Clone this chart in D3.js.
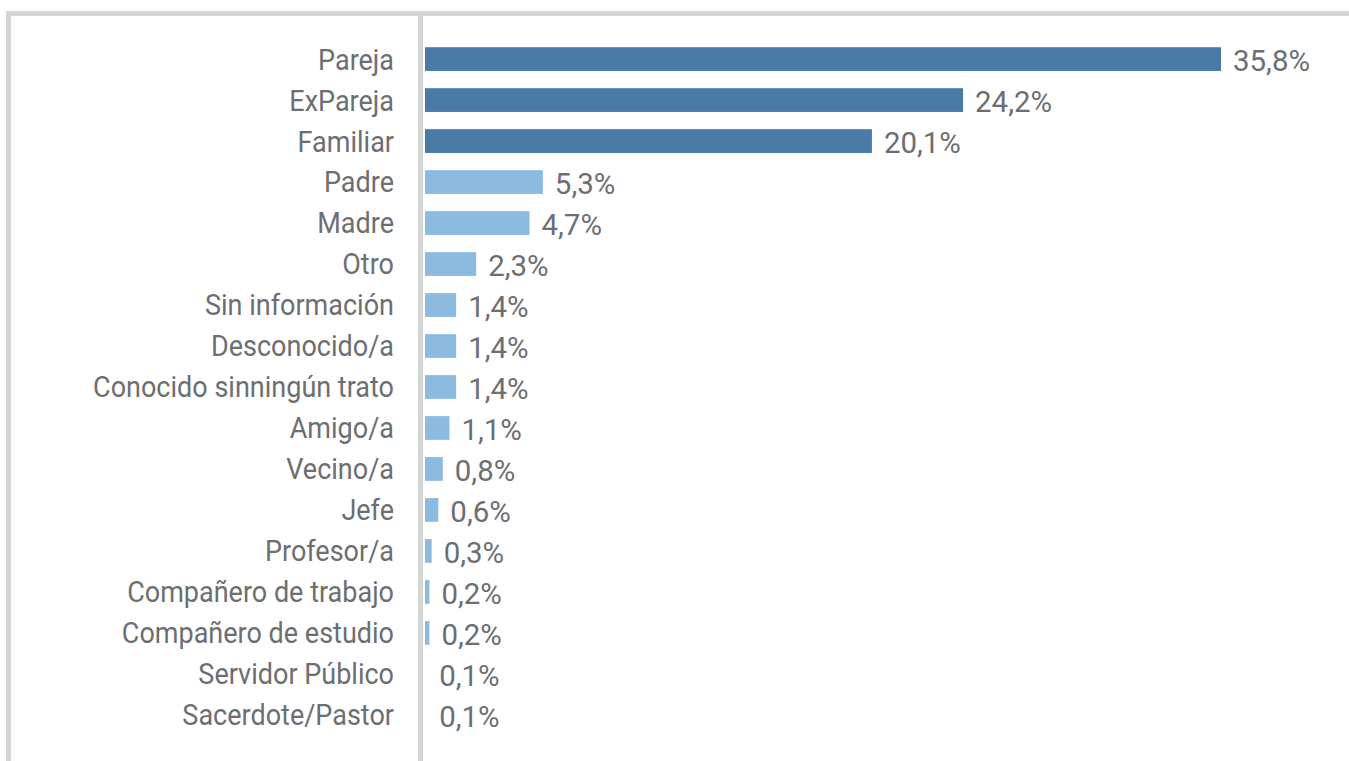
<!DOCTYPE html>
<html>
<head>
<meta charset="utf-8">
<script src="https://cdn.jsdelivr.net/npm/d3@7"></script>
<style>
  body { margin: 0; background: #fff; }
  svg { display: block; }
</style>
</head>
<body>
<svg id="chart" width="1349" height="761"></svg>
<script>
const categories = [
  "Pareja", "ExPareja", "Familiar", "Padre", "Madre", "Otro",
  "Sin información", "Desconocido/a", "Conocido sinningún trato",
  "Amigo/a", "Vecino/a", "Jefe", "Profesor/a", "Compañero de trabajo",
  "Compañero de estudio", "Servidor Público", "Sacerdote/Pastor"
];
const values = [35.8, 24.2, 20.1, 5.3, 4.7, 2.3, 1.4, 1.4, 1.4, 1.1, 0.8, 0.6, 0.3, 0.2, 0.2, 0.1, 0.1];
const labels = ["35,8%", "24,2%", "20,1%", "5,3%", "4,7%", "2,3%", "1,4%", "1,4%", "1,4%", "1,1%", "0,8%", "0,6%", "0,3%", "0,2%", "0,2%", "0,1%", "0,1%"];
// first three bars are highlighted in the darker blue
const highlighted = ["Pareja", "ExPareja", "Familiar"];

const width = 1349, height = 761;
const axisX = 420;
const fontFamily = "Roboto, 'DejaVu Sans', sans-serif";
const fontSize = 29;
const textColor = "#6d6e71";

const data = categories.map((c, i) => ({ cat: c, value: values[i], label: labels[i] }));

const svg = d3.select("#chart");

// frame: top and left grey rules
svg.append("rect").attr("x", 6).attr("y", 11).attr("width", width - 6).attr("height", 5).attr("fill", "#d4d5d5");
svg.append("rect").attr("x", 6).attr("y", 11).attr("width", 5).attr("height", height - 11).attr("fill", "#d4d5d5");

const x = d3.scaleLinear().domain([0, 35.8]).range([axisX + 5, 1221]);
const y = d3.scaleBand().domain(categories).range([39, 735]).paddingInner(0.42).paddingOuter(0.2);

// category axis line
svg.append("rect").attr("x", axisX - 2).attr("y", 16).attr("width", 5).attr("height", height - 16).attr("fill", "#d4d5d5");

const bars = svg.append("g").attr("id", "bars");
bars.selectAll("rect")
  .data(data)
  .join("rect")
  .attr("x", x(0))
  .attr("y", d => y(d.cat))
  .attr("width", d => Math.max(0, x(d.value) - x(0) - (d.value < 0.15 ? 3 : 0)))
  .attr("height", y.bandwidth())
  .attr("fill", d => highlighted.includes(d.cat) ? "#4a7ba7" : "#8dbbe0");

// condensed look: measure the longest label and squeeze all text horizontally
const probe = svg.append("text")
  .attr("font-family", fontFamily)
  .attr("font-size", fontSize)
  .text("Conocido sinningún trato");
const sx = 301 / probe.node().getComputedTextLength();
probe.remove();

const catLabels = svg.append("g").attr("id", "cat-labels");
catLabels.selectAll("text")
  .data(data)
  .join("text")
  .attr("transform", d => `translate(394,${y(d.cat) + y.bandwidth() / 2}) scale(${sx},1)`)
  .attr("dy", "0.36em")
  .attr("text-anchor", "end")
  .attr("font-family", fontFamily)
  .attr("font-size", fontSize)
  .attr("fill", textColor)
  .text(d => d.cat);

const valLabels = svg.append("g").attr("id", "value-labels");
valLabels.selectAll("text")
  .data(data)
  .join("text")
  .attr("transform", d => `translate(${Math.max(x(d.value), x(0) + 2) + 12},${y(d.cat) + y.bandwidth() / 2}) scale(${sx * 1.09},1)`)
  .attr("dy", "0.42em")
  .attr("font-family", fontFamily)
  .attr("font-size", fontSize)
  .attr("fill", textColor)
  .text(d => d.label);
</script>
</body>
</html>
